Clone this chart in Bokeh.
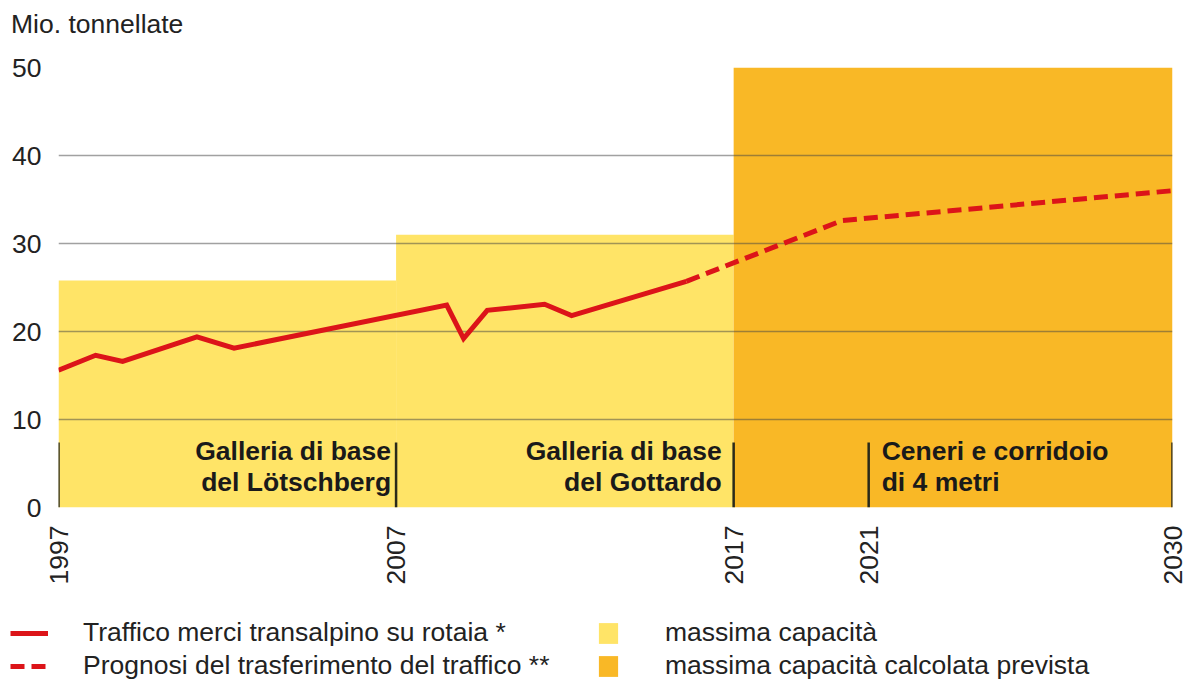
import math
from bokeh.plotting import figure
from bokeh.layouts import column
from bokeh.models import Range1d, Legend, LegendItem, FixedTicker, Div
from bokeh.core.properties import value
from bokeh.embed import file_html
from bokeh.resources import INLINE

# ---- data ----
years_obs = [1997.0, 1998.1, 1998.9, 2001.1, 2002.2, 2008.5, 2009.0, 2009.7, 2011.4, 2012.2, 2015.6]
freight_obs = [15.6, 17.3, 16.6, 19.4, 18.1, 23.0, 19.2, 22.4, 23.1, 21.8, 25.7]
years_fc = [2015.6, 2020.2, 2030.0]
freight_fc = [25.7, 32.6, 36.0]

cap_start = [1997, 2007]
cap_end = [2007, 2017]
cap_value = [25.8, 31.0]
calc_start = [2017]
calc_end = [2030]
calc_value = [50]

tick_years = [1997, 2007, 2017, 2021, 2030]
y_ticks = [0, 10, 20, 30, 40, 50]

unit_label = "Mio. tonnellate"
legend_lines = ["Traffico merci transalpino su rotaia *", "Prognosi del trasferimento del traffico **"]
legend_areas = ["massima capacità", "massima capacità calcolata prevista"]

FONT = "Liberation Sans"
FS = "26.5px"
TXT = "#222222"
YELLOW = "#FFE467"
ORANGE = "#F9B826"
RED = "#DC1419"
DASH = "14 7"

# ---- unit label above the chart ----
head = Div(text=unit_label, width=1186, height=47, margin=0,
           styles={"font-family": FONT, "font-size": FS, "color": TXT, "line-height": "normal",
                   "padding-left": "11px", "padding-top": "9px", "box-sizing": "border-box",
                   "white-space": "nowrap"})

p = figure(width=1186, height=553, x_range=Range1d(1997, 2030), y_range=Range1d(0, 50),
           output_backend="svg", toolbar_location=None,
           min_border_left=58, min_border_right=14, min_border_top=20, min_border_bottom=93)
p.outline_line_color = None
p.frame_align = False

# capacity fills
cap = p.quad(left=cap_start, right=cap_end, bottom=0, top=cap_value,
             fill_color=YELLOW, line_color=None, level="image")
calc = p.quad(left=calc_start, right=calc_end, bottom=0, top=calc_value,
              fill_color=ORANGE, line_color=None, level="image")

# grid
p.xgrid.visible = False
p.ygrid.ticker = FixedTicker(ticks=y_ticks)
p.ygrid.grid_line_color = "#444444"
p.ygrid.grid_line_alpha = 0.5
p.ygrid.grid_line_width = 1.5
p.ygrid.level = "underlay"

# separators between tunnel periods
p.segment(x0=tick_years, y0=0, x1=tick_years, y1=7.4, line_color="#2a2a1a", line_width=2.5)

# freight lines
l_obs = p.line(years_obs, freight_obs, line_color=RED, line_width=5, line_join="miter")
l_fc = p.line(years_fc, freight_fc, line_color=RED, line_width=5, line_dash=DASH)

# tunnel annotations
txt_kw = dict(y=8.15, text_baseline="top", text_font=value(FONT), text_font_style="bold",
              text_font_size=FS, text_color="#1a1a1a", text_line_height=1.05)
p.text(x=[2007], text=["Galleria di base\ndel Lötschberg"], text_align="right", x_offset=-5, **txt_kw)
p.text(x=[2017], text=["Galleria di base\ndel Gottardo"], text_align="right", x_offset=-12, **txt_kw)
p.text(x=[2021], text=["Ceneri e corridoio\ndi 4 metri"], text_align="left", x_offset=13, **txt_kw)

# axes
p.yaxis.ticker = FixedTicker(ticks=y_ticks)
p.xaxis.ticker = FixedTicker(ticks=tick_years)
for ax in (p.xaxis[0], p.yaxis[0]):
    ax.axis_line_color = None
    ax.major_tick_line_color = None
    ax.minor_tick_line_color = None
    ax.major_label_text_font = FONT
    ax.major_label_text_font_size = FS
    ax.major_label_text_color = TXT
p.yaxis.major_label_standoff = 11
p.xaxis.major_label_standoff = 12
p.xaxis.major_label_orientation = math.pi / 2

# ---- legend strip (series drawn out of view, only their legend entries show) ----
q = figure(width=1186, height=82, x_range=Range1d(0, 1), y_range=Range1d(0, 1),
           x_axis_type=None, y_axis_type=None, output_backend="svg", toolbar_location=None,
           min_border=0)
q.outline_line_color = None
q.frame_align = False
q.grid.visible = False
k_obs = q.line(years_obs, freight_obs, line_color=RED, line_width=5)
k_fc = q.line(years_fc, freight_fc, line_color=RED, line_width=5, line_dash=DASH)
k_cap = q.quad(left=cap_start, right=cap_end, bottom=0, top=cap_value, fill_color=YELLOW, line_color=None)
k_calc = q.quad(left=calc_start, right=calc_end, bottom=0, top=calc_value, fill_color=ORANGE, line_color=None)

common = dict(border_line_color=None, background_fill_alpha=0, margin=0, padding=0,
              label_text_font=FONT, label_text_font_size=FS, label_text_color=TXT,
              orientation="vertical", spacing=2, label_height=26, glyph_height=26)
leg1 = Legend(items=[LegendItem(label=legend_lines[0], renderers=[k_obs]),
                     LegendItem(label=legend_lines[1], renderers=[k_fc])],
              location=(10, 1), glyph_width=38, label_standoff=35, **common)
leg2 = Legend(items=[LegendItem(label=legend_areas[0], renderers=[k_cap]),
                     LegendItem(label=legend_areas[1], renderers=[k_calc])],
              location=(596, 1), glyph_width=24, label_standoff=45, **common)
q.add_layout(leg1)
q.add_layout(leg2)

layout = column(head, p, q, spacing=0)
open("out.html", "w").write(file_html(layout, INLINE))
